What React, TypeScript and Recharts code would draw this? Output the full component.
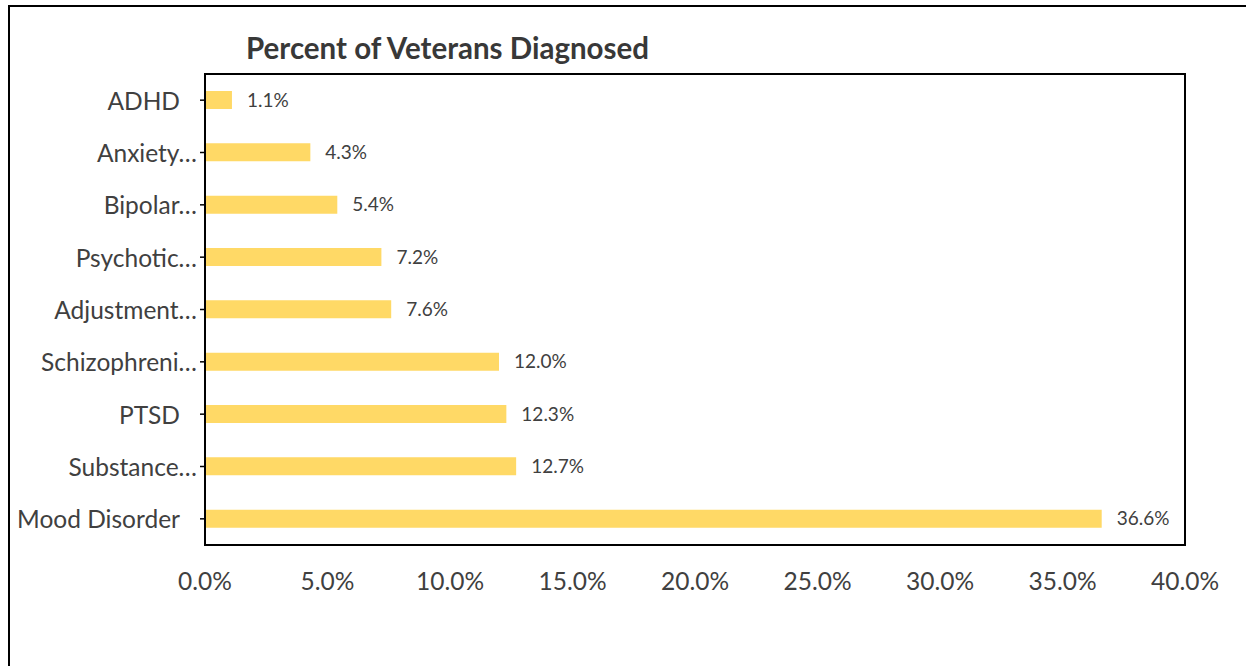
import { BarChart, Bar, XAxis, YAxis, LabelList, ReferenceArea } from "recharts";

const categories = [
  "ADHD",
  "Anxiety…",
  "Bipolar…",
  "Psychotic…",
  "Adjustment…",
  "Schizophreni…",
  "PTSD",
  "Substance…",
  "Mood Disorder",
];
const percents = [1.1, 4.3, 5.4, 7.2, 7.6, 12.0, 12.3, 12.7, 36.6];
const xTicks = [0, 5, 10, 15, 20, 25, 30, 35, 40];

const data = categories.map((name, i) => ({ name, value: percents[i] }));

const FONT = "Lato, 'Open Sans', sans-serif";
const TEXT = "#404040";

const CategoryTick = (props: any) => {
  const { x, y, payload } = props;
  const label: string = payload.value;
  const dx = label.endsWith("…") ? -3 : -20;
  return (
    <text
      x={x + dx}
      y={y}
      textAnchor="end"
      dominantBaseline="central"
      fill={TEXT}
      fontSize={24.5}
      fontFamily={FONT}
    >
      {label}
    </text>
  );
};

export default function App() {
  return (
    <div
      style={{
        position: "fixed",
        left: 0,
        top: 0,
        width: 1246,
        height: 666,
        overflow: "hidden",
        background: "#fff",
      }}
    >
      <div
        style={{
          position: "absolute",
          left: 8,
          top: 5,
          width: 1260,
          height: 700,
          border: "2px solid #000",
        }}
      />
      <div
        style={{
          position: "absolute",
          left: 246,
          top: 29,
          fontFamily: FONT,
          fontWeight: 700,
          fontSize: 29.5,
          lineHeight: "38px",
          color: "#383838",
          whiteSpace: "nowrap",
        }}
      >
        Percent of Veterans Diagnosed
      </div>
      <div style={{ position: "absolute", left: 0, top: 0 }}>
        <BarChart
          width={1246}
          height={666}
          data={data}
          layout="vertical"
          margin={{ top: 74, right: 61, left: 0, bottom: 81 }}
        >
          <XAxis
            type="number"
            domain={[0, 40]}
            ticks={xTicks}
            interval={0}
            height={40}
            axisLine={{ stroke: "#000", strokeWidth: 2 }}
            tickLine={false}
            tickMargin={22}
            tick={{ fill: TEXT, fontSize: 24.5, fontFamily: FONT }}
            tickFormatter={(v: number) => v.toFixed(1) + "%"}
          />
          <YAxis
            type="category"
            dataKey="name"
            width={205}
            interval={0}
            tickSize={5}
            tickMargin={0}
            tickLine={{ stroke: "#000", strokeWidth: 1.5 }}
            axisLine={{ stroke: "#000", strokeWidth: 2 }}
            tick={<CategoryTick />}
          />
          <ReferenceArea
            x1={0}
            x2={40}
            fill="none"
            fillOpacity={0}
            stroke="#000"
            strokeWidth={2}
            ifOverflow="visible"
          />
          <Bar dataKey="value" fill="#FFD966" barSize={18} isAnimationActive={false}>
            <LabelList
              dataKey="value"
              position="right"
              offset={15}
              fill={TEXT}
              fontSize={19}
              fontFamily={FONT}
              formatter={(v: any) => Number(v).toFixed(1) + "%"}
            />
          </Bar>
        </BarChart>
      </div>
    </div>
  );
}
